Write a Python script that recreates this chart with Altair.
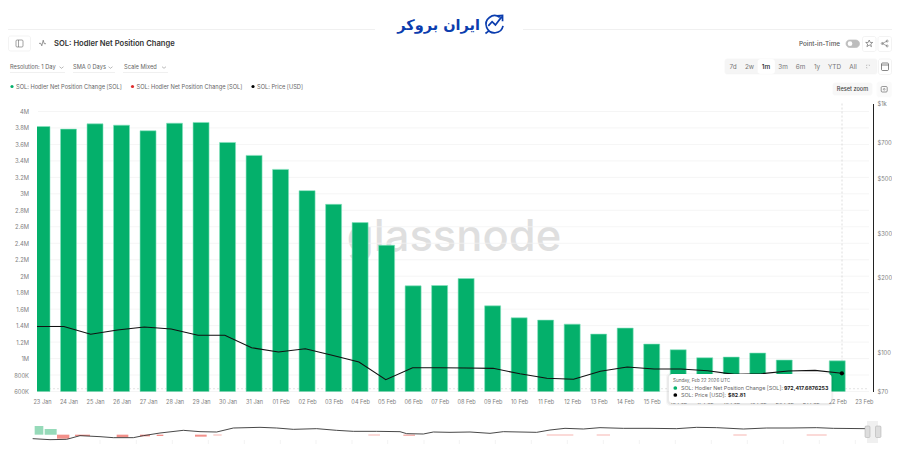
import altair as alt
import pandas as pd

dates = [d.strftime("%Y-%m-%d") for d in pd.date_range("2026-01-23", "2026-02-22")]
tick_dates = dates + ["2026-02-23"]
net_change = [3818000, 3786000, 3850000, 3834000, 3766000, 3858000, 3867000, 3624000, 3467000, 3297000,
              3039000, 2873000, 2651000, 2376000, 1883000, 1887000, 1972000, 1640000, 1495000, 1467000,
              1418000, 1297000, 1370000, 1176000, 1107000, 1010000, 1018000, 1067000, 982000, None, 972418]
price = [127.6, 127.6, 118.7, 123.6, 127.0, 124.7, 117.7, 117.7, 104.9, 100.8,
         103.9, 97.8, 91.9, 78.1, 87.2, 87.2, 87.0, 86.7, 82.5, 79.1,
         78.4, 84.4, 87.8, 86.2, 86.2, 84.8, 82.0, 82.5, 84.6, 85.1, 82.81]
y_ticks = [600000, 800000, 1000000, 1200000, 1400000, 1600000, 1800000, 2000000, 2200000, 2400000,
           2600000, 2800000, 3000000, 3200000, 3400000, 3600000, 3800000, 4000000]
price_ticks = [70, 100, 200, 300, 500, 700, 1000]

nav_pos = [98, 150, 200, 240, 300, 340, 400, 430, 480, 550, 600, 650, 700, 780, 830, 880, 950, 1010, 1060, 1130,
           1200, 1220, 1270, 1300, 1350, 1410, 1470, 1510, 1610, 1650, 1695, 1750, 1800, 1870, 1950, 2030, 2090,
           2150, 2230, 2300, 2370, 2450, 2500, 2600]
nav_level = [4, 1, 2, 13, 10, 7, 7, 13, 21, 29, 25, 24, 36, 38, 36, 32, 34, 29, 26, 26,
             25, 19, 18, 24, 23, 24, 20, 25, 23, 30, 35, 33, 37, 35, 35, 34, 38, 37, 33, 36,
             36, 37, 35, 34]
nav_up_start = [104, 134]
nav_up_end = [130, 170]
nav_up_level = [42, 33]
nav_dn_start = [171, 225, 350, 420, 470, 585, 640, 1105, 1210, 1640, 1790, 2200, 2420]
nav_dn_end = [208, 270, 385, 450, 490, 620, 665, 1140, 1245, 1720, 1830, 2240, 2480]
nav_dn_level = [4, 12, 8, 11, 12, 10, 14, 14, 13, 14, 14, 14, 14]
nav_ticks = [300, 409, 517, 625, 733, 841, 948, 1056, 1163, 1272, 1378, 1486, 1594, 1702, 1810, 1918, 2026, 2134,
             2242, 2350, 2458, 2566]

GREEN = "#04B06B"
PX, PY = 37, 103.5
W, H = 836, 288
FONT = "Inter"

bar_df = pd.DataFrame({"date": dates, "v": net_change}).dropna()
price_df = pd.DataFrame({"date": dates, "p": price})
x_scale = alt.Scale(type="utc", domain=["2026-01-23T00:00:00Z", "2026-02-23T03:50:00Z"])
y_scale = alt.Scale(domain=[600000, 4096970], nice=False, zero=False)
p_scale = alt.Scale(type="log", domain=[70, 1000], nice=False)
nav_x = alt.Scale(domain=[0, 2700], range=[0 - PX, 900 - PX], nice=False, zero=False)
nav_y = alt.Scale(domain=[0, 60], range=[440 - PY, 420 - PY], nice=False, zero=False)
base = alt.Chart(alt.Data(values=[{"a": 1}]))


def T(s, x, y, size=6.5, color="#666666", weight=400, align="left", font=FONT):
    return base.mark_text(align=align, baseline="middle", fontSize=size, color=color, fontWeight=weight,
                          font=font).encode(x=alt.value(x - PX), y=alt.value(y - PY), text=alt.value(s))


def R(x1, y1, x2, y2, fill="#ffffff", stroke="#ffffff", radius=2, sw=0.7, op=1):
    return base.mark_rect(fill=fill, stroke=stroke, cornerRadius=radius, strokeWidth=sw, opacity=op).encode(
        x=alt.value(x1 - PX), x2=alt.value(x2 - PX), y=alt.value(y1 - PY), y2=alt.value(y2 - PY))


def L(x1, y1, x2, y2, color="#f0f0f0", sw=1, dash=None):
    kw = {"strokeDash": dash} if dash else {}
    return base.mark_rule(color=color, strokeWidth=sw, **kw).encode(
        x=alt.value(x1 - PX), x2=alt.value(x2 - PX), y=alt.value(y1 - PY), y2=alt.value(y2 - PY))


def S(path, x, y, px, color="#555555", sw=0.7, filled=False):
    kw = {"fill": color} if filled else {"fill": "transparent"}
    return base.mark_point(shape=path, size=px * px, stroke=color, strokeWidth=sw, opacity=1, **kw).encode(
        x=alt.value(x - PX), y=alt.value(y - PY))


CHEV = "M -1 -0.4 L 0 0.4 L 1 -0.4"
layers = []

# watermark + grid
layers.append(T("glassnode", 454, 238, size=43.5, color="#dfdfdf", weight=500, align="center"))
grid = alt.Chart(pd.DataFrame({"t": y_ticks})).mark_rule(color="#f3f3f3", strokeWidth=0.8).encode(
    y=alt.Y("t:Q", scale=y_scale, axis=None), x=alt.value(1), x2=alt.value(832))
layers.append(grid)
layers.append(L(842, 103.5, 842, 391, color="#cfcfcf", sw=0.7, dash=[2, 2]))
layers.append(L(37, 388.7, 869, 388.7, color="#d8d8d8", sw=0.7, dash=[2, 2]))

# bars
bars = alt.Chart(bar_df).mark_bar(size=16, color=GREEN, stroke="#86E3BF", strokeWidth=0.6, clip=True).encode(
    x=alt.X("date:T", scale=x_scale, title=None,
            axis=alt.Axis(values=[d + "T00:00:00Z" for d in tick_dates], format="%d %b", labelFont=FONT, labelFontSize=5.6,
                          labelColor="#808080", ticks=False, domain=False, grid=False, labelPadding=8,
                          labelOverlap=False, labelFlush=False)),
    y=alt.Y("v:Q", scale=y_scale, title=None,
            axis=alt.Axis(values=y_ticks, grid=False, ticks=False, domain=False, labelFont=FONT, labelFontSize=5.8,
                          labelColor="#808080", labelPadding=8.5,
                          labelExpr="datum.value >= 1000000 ? (datum.value / 1000000) + 'M' : (datum.value / 1000) + 'K'")),
    y2=alt.value(H))
layers.append(bars)

# price
line = alt.Chart(price_df).mark_line(color="#111111", strokeWidth=1.1).encode(
    x=alt.X("date:T", scale=x_scale, axis=None),
    y=alt.Y("p:Q", scale=p_scale, title=None,
            axis=alt.Axis(values=price_ticks, orient="right", grid=False, ticks=False, domain=True, domainColor="#222222",
                          domainWidth=1, labelFont=FONT, labelFontSize=5.8, labelColor="#808080", labelPadding=4,
                          labelExpr="datum.value >= 1000 ? '$1k' : '$' + datum.value")))
layers.append(line)

# tooltip
for grow, op in [(2, 0.03), (1, 0.05)]:
    layers.append(R(668 - grow, 374 - grow + 1, 831.5 + grow, 403 + grow + 1, fill="#000000", stroke="#000000", radius=4, sw=0, op=op))
layers.append(R(669, 374, 831.5, 403, radius=3, sw=0))
layers.append(T("Sunday, Feb 22 2026 UTC", 673, 380.5, size=4.6, color="#666666"))
layers.append(base.mark_circle(size=14, color=GREEN, opacity=1).encode(x=alt.value(675.3 - PX), y=alt.value(388 - PY)))
layers.append(T("SOL: Hodler Net Position Change [SOL]:", 681, 388, size=5.4, color="#666666"))
layers.append(T("972,417.6876253", 784, 388, size=5.25, color="#222222", weight=700))
layers.append(base.mark_circle(size=14, color="#000000", opacity=1).encode(x=alt.value(675.3 - PX), y=alt.value(395 - PY)))
layers.append(T("SOL: Price [USD]:", 681, 395, size=5.4, color="#666666"))
layers.append(T("$82.81", 728, 395, size=5.25, color="#222222", weight=700))

pt = alt.Chart(price_df.tail(1)).mark_circle(size=18, color="#000000", opacity=1).encode(
    x=alt.X("date:T", scale=x_scale, axis=None), y=alt.Y("p:Q", scale=p_scale, axis=None))
layers.append(pt)

# navigator
nav_up = pd.DataFrame({"a": nav_up_start, "b": nav_up_end, "v": nav_up_level})
nav_dn = pd.DataFrame({"a": nav_dn_start, "b": nav_dn_end, "v": nav_dn_level})
for df, c in [(nav_up, "#96DAB9"), (nav_dn, "#F2908A")]:
    layers.append(alt.Chart(df).mark_rect(color=c).encode(
        x=alt.X("a:Q", scale=nav_x, axis=None), x2="b:Q",
        y=alt.Y("v:Q", scale=nav_y, axis=None), y2=alt.datum(16)))
layers.append(alt.Chart(pd.DataFrame({"x": nav_pos, "v": nav_level})).mark_line(color="#333333", strokeWidth=0.9).encode(
    x=alt.X("x:Q", scale=nav_x, axis=None), y=alt.Y("v:Q", scale=nav_y, axis=None)))
layers.append(alt.Chart(pd.DataFrame({"x": nav_ticks})).mark_rule(color="#eeeeee", strokeWidth=0.7).encode(
    x=alt.X("x:Q", scale=nav_x, axis=None), y=alt.value(440 - PY), y2=alt.value(444 - PY)))
layers.append(R(867, 421, 878, 443, fill="#f0f0f0", stroke="#f0f0f0", radius=0, sw=0))
layers.append(R(865, 426, 870, 437.5, fill="#dddddd", stroke="#aaaaaa", radius=1, sw=0.5))
layers.append(R(875.5, 426, 881, 437.5, fill="#dddddd", stroke="#aaaaaa", radius=1, sw=0.5))

# page frame
layers.append(L(8.1, 29.5, 375, 29.5))
layers.append(L(523, 29.5, 892, 29.5))

# brand
layers.append(T("ایران بروکر", 480, 25.5, size=14.5, color="#0B3DAE", weight=700, align="right", font="DejaVu Sans"))
layers.append(S("M 0.6 -0.7 A 0.9 0.9 0 1 0 0.95 0.2 M -0.6 0.2 L -0.2 -0.25 L 0.15 0.1 L 0.8 -0.75 M 0.3 -0.85 L 0.9 -0.9 L 0.9 -0.3 M -0.5 0.7 L -0.9 1",
                494, 24, 19, color="#0B3DAE", sw=1.7))

# header
layers.append(R(8.5, 36, 30.5, 51, stroke="#eeeeee"))
layers.append(R(16, 40, 23, 47, stroke="#666666", sw=0.6, radius=1))
layers.append(L(18.5, 40, 18.5, 47, color="#666666", sw=0.6))
layers.append(S("M -1 0.1 L -0.5 0.1 L -0.2 0.8 L 0.2 -0.8 L 0.5 0.2 L 1 0.2", 42.5, 43, 7, color="#555555", sw=0.6))
layers.append(T("SOL: Hodler Net Position Change", 54, 43.5, size=7.6, color="#333333", weight=600))
for s, x, chev in [("Resolution: 1 Day", 10, 61.5), ("SMA 0 Days", 73, 110.5), ("Scale Mixed", 124, 164)]:
    layers.append(T(s, x, 67, size=5.7, color="#666666"))
    layers.append(S(CHEV, chev, 67.5, 4, color="#777777", sw=0.5))
layers.append(L(10, 72.5, 65, 72.5))
layers.append(L(73, 72.5, 115, 72.5))
layers.append(L(123, 72.5, 168, 72.5))

# legend
for s, tx, dx, c in [("SOL: Hodler Net Position Change [SOL]", 16, 12, GREEN),
                     ("SOL: Hodler Net Position Change [SOL]", 136.5, 132.5, "#E02B2B"),
                     ("SOL: Price [USD]", 257, 253, "#000000")]:
    layers.append(base.mark_circle(size=10, color=c, opacity=1).encode(x=alt.value(dx - PX), y=alt.value(86.5 - PY)))
    layers.append(T(s, tx, 86.5, size=5.7, color="#666666"))

# right-hand controls (the drawable page ends at x=892)
layers.append(T("Point-in-Time", 799, 43.5, size=6.3, color="#555555", weight=500))
layers.append(R(846, 40, 859.5, 47.5, fill="#bdbdbd", stroke="#bdbdbd", radius=3.7))
layers.append(base.mark_circle(size=22, color="#ffffff", opacity=1).encode(x=alt.value(850 - PX), y=alt.value(43.7 - PY)))
layers.append(R(862.5, 36.5, 876, 51.5, stroke="#eeeeee"))
layers.append(S("M 0 -1 L 0.3 -0.3 L 1 -0.3 L 0.45 0.15 L 0.65 0.9 L 0 0.45 L -0.65 0.9 L -0.45 0.15 L -1 -0.3 L -0.3 -0.3 Z", 869.2, 43.5, 7, color="#555555", sw=0.6))
layers.append(R(878, 36.5, 891.5, 51.5, stroke="#eeeeee"))
layers.append(S("M 0.7 -0.7 L -0.7 0 L 0.7 0.7 M 1 -0.7 A 0.3 0.3 0 1 0 0.4 -0.7 A 0.3 0.3 0 1 0 1 -0.7 M -0.4 0 A 0.3 0.3 0 1 0 -1 0 A 0.3 0.3 0 1 0 -0.4 0 M 1 0.7 A 0.3 0.3 0 1 0 0.4 0.7 A 0.3 0.3 0 1 0 1 0.7", 884.7, 43.5, 7, color="#555555", sw=0.5))
layers.append(R(725, 59, 877, 74, fill="#f5f5f5", stroke="#f5f5f5", radius=2))
layers.append(R(758, 59.5, 774.5, 73.5, radius=2))
for s, x, c in [("7d", 733, "#777777"), ("2w", 749.5, "#777777"), ("1m", 766, "#222222"), ("3m", 783, "#777777"),
                ("6m", 800.5, "#777777"), ("1y", 817, "#777777"), ("YTD", 834.5, "#777777"), ("All", 853, "#777777")]:
    layers.append(T(s, x, 66.8, size=6.4, color=c, align="center", weight=500 if c == "#222222" else 400))
layers.append(S("M -1 -0.4 L -1 -1 L -0.4 -1 M 0.4 -1 L 1 -1 L 1 -0.4 M -1 0.4 L -1 1 L -0.4 1", 868, 66.5, 3, color="#aaaaaa", sw=0.6))
layers.append(R(878.5, 59, 891.5, 74.5, stroke="#eeeeee"))
layers.append(R(881.5, 63, 888.5, 70.5, stroke="#555555", sw=0.7, radius=1))
layers.append(L(881.5, 65, 888.5, 65, color="#555555", sw=0.7))
layers.append(R(833, 83, 872, 95, fill="#f7f7f7", stroke="#f7f7f7", radius=2))
layers.append(T("Reset zoom", 852.5, 89, size=5.6, color="#444444", align="center", weight=500))
layers.append(R(877, 82, 891.5, 97, fill="#fafafa", stroke="#fafafa"))
layers.append(R(881.2, 86.5, 887.2, 92, stroke="#555555", fill="#fafafa", sw=0.6, radius=1))
layers.append(base.mark_circle(size=3, fill="#fafafa", stroke="#555555", strokeWidth=0.5, opacity=1).encode(x=alt.value(884.2 - PX), y=alt.value(89.3 - PY)))

chart = alt.layer(*layers).resolve_scale(x="independent", y="independent").properties(
    width=W, height=H,
    autosize=alt.AutoSizeParams(type="none"),
    padding={"left": PX - 8, "top": PY - 8, "right": 884 - (PX - 8) - W, "bottom": 60},
    background="#ffffff",
).configure_view(stroke=None)

chart.save("out.html", embed_options={"renderer": "svg", "actions": False})
